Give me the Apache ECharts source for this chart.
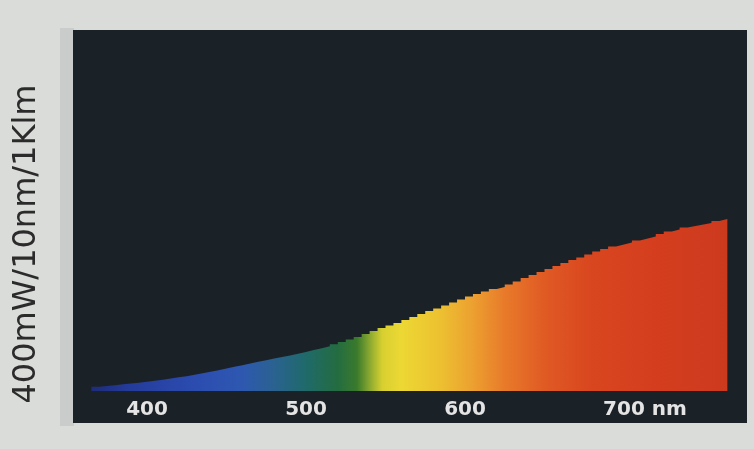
<!DOCTYPE html>
<html>
<head>
<meta charset="utf-8">
<script src="https://cdn.jsdelivr.net/npm/echarts@6/dist/echarts.min.js"></script>
<style>
html,body{margin:0;padding:0;background:#dadcd9;}
#chart{width:754px;height:449px;}
</style>
</head>
<body>
<div id="chart"></div>
<script>
// Wavelength bins (nm, start of each 5 nm bin)
const binStarts = [365,370,375,380,385,390,395,400,405,410,415,420,425,430,435,440,445,450,455,460,
  465,470,475,480,485,490,495,500,505,510,515,520,525,530,535,540,545,550,555,560,
  565,570,575,580,585,590,595,600,605,610,615,620,625,630,635,640,645,650,655,660,
  665,670,675,680,685,690,695,700,705,710,715,720,725,730,735,740,745,750,755,760];
const binEnd = 765;
// Relative spectral power (mW / 10 nm / 1 klm), full panel height = 400
const power = [4.7,5.5,6.3,7.4,8.3,9.2,10.3,11.3,12.5,13.9,15.2,16.4,18.0,19.6,21.4,23.0,24.9,26.8,28.6,30.5,
  32.4,34.1,35.9,37.7,39.3,41.2,43.2,45.4,47.4,49.6,51.9,54.3,57.1,59.8,63.2,66.5,69.8,72.6,75.3,78.7,
  82.0,85.3,88.6,91.4,94.7,98.1,101.4,104.7,107.5,110.2,113.0,115.2,118.0,121.3,125.2,128.5,131.9,135.2,138.5,141.8,
  145.1,147.9,151.2,154.6,157.3,160.1,162.3,164.5,166.8,169.0,171.2,174.0,176.7,178.9,181.2,182.8,184.5,186.1,188.4,190.6];
const tickValues = [400,500,600,700];
const tickUnit = 'nm';
const yAxisTitle = '400mW/10nm/1Klm';
// spectrum colours: [wavelength, colour]
const spectrumColors = [[365,'#1e2c7a'],[390,'#243c9c'],[430,'#2c4cb0'],[460,'#2e58b0'],[480,'#2a6290'],
  [500,'#1f6a6a'],[520,'#246c40'],[532,'#3a7a2c'],[540,'#8aa830'],[548,'#d8d030'],[560,'#ecd834'],
  [585,'#ecc030'],[605,'#eca030'],[625,'#e87a2a'],[650,'#e05a24'],[680,'#d8461f'],[720,'#d43e1e'],[765,'#cc3a1e']];

const seriesData = binStarts.map((x,i)=>[x,power[i]]);
seriesData.push([binEnd, power[power.length-1]]);
const span = binEnd - binStarts[0];
const stops = spectrumColors.map(([w,c])=>({offset:(w-binStarts[0])/span, color:c}));

const chart = echarts.init(document.getElementById('chart'), null, {renderer:'canvas'});
chart.setOption({
  backgroundColor:'#dadcd9',
  animation:false,
  grid:{left:67.5, width:675.75, top:30, height:361},
  graphic:[
    {type:'rect', z:-2, shape:{x:60,y:28,width:14,height:398}, style:{fill:'#c9cccb'}},
    {type:'rect', z:-1, shape:{x:73,y:30,width:674,height:393}, style:{fill:'#1b2227'}},
    {type:'text', z:5, x:27, y:244, rotation:Math.PI/2,
      style:{text:yAxisTitle, fill:'#2b2b2b', font:'32px "DejaVu Sans"', textAlign:'center', textVerticalAlign:'middle'}}
  ],
  xAxis:{
    type:'value', min:350, max:775, interval:50,
    axisLine:{show:false}, axisTick:{show:false}, splitLine:{show:false},
    axisLabel:{
      margin:9, color:'#e4e4e4', fontFamily:'DejaVu Sans', fontWeight:'bold', fontSize:20, lineHeight:20,
      showMaxLabel:false,
      formatter:function(v){
        if(!tickValues.includes(v)) return '';
        if(v===tickValues[tickValues.length-1]) return '{s|}'+v+' '+tickUnit;
        return String(v);
      },
      rich:{s:{width:42}}
    }
  },
  yAxis:{type:'value', min:0, max:400, show:false},
  series:[{
    type:'line', step:'end', data:seriesData, showSymbol:false, symbol:'none',
    lineStyle:{width:0, opacity:0},
    areaStyle:{opacity:1, color:new echarts.graphic.LinearGradient(0,0,1,0,stops)}
  }]
});
</script>
</body>
</html>
